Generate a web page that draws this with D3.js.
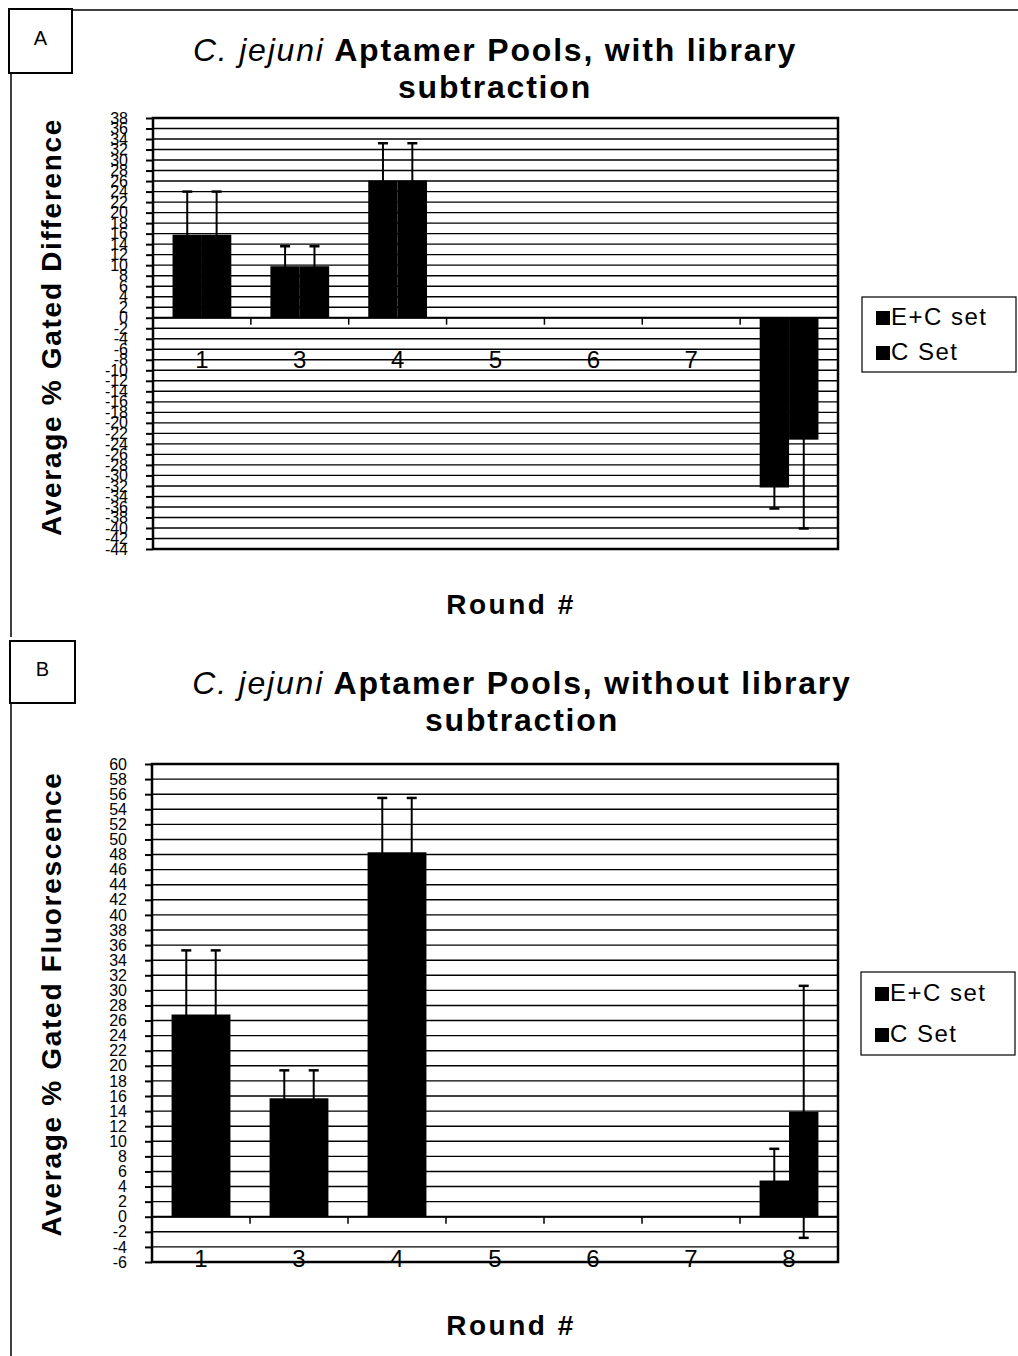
<!DOCTYPE html>
<html lang="en">
<head>
    <meta charset="UTF-8">
    <title>C. jejuni Aptamer Pools</title>
    <script src="https://d3js.org/d3.v7.min.js"></script>
    <style>
        body { margin: 0; background: #fff; }
        svg text { font-family: "Liberation Sans", Arial, sans-serif; fill: #000; }
    </style>
</head>
<body>
    <div id="chart"></div>

    <script>
        // categories and series
        const rounds = ["1", "3", "4", "5", "6", "7", "8"];
        const seriesNames = ["E+C set", "C Set"];

        // panel A - with library subtraction
        const aValuesEC = [15.8, 9.8, 26.1, null, null, null, -32.3];
        const aValuesC  = [15.8, 9.8, 26.1, null, null, null, -23.2];
        const aErrEC    = [8.2, 3.8, 7.1, null, null, null, 4.0];
        const aErrC     = [8.2, 3.8, 7.1, null, null, null, 16.9];
        const aTickRange = [-44, 38, 2];

        // panel B - without library subtraction
        const bValuesEC = [26.8, 15.7, 48.3, null, null, null, 4.8];
        const bValuesC  = [26.8, 15.7, 48.3, null, null, null, 13.9];
        const bErrEC    = [8.5, 3.7, 7.2, null, null, null, 4.2];
        const bErrC     = [8.5, 3.7, 7.2, null, null, null, 16.7];
        const bTickRange = [-6, 60, 2];

        const W = 1018, H = 1356;

        const svg = d3.select("#chart")
          .append("svg")
            .attr("width", W)
            .attr("height", H);

        // page frame lines and panel letters
        svg.append("line").attr("x1", 72).attr("x2", W).attr("y1", 10).attr("y2", 10)
            .attr("stroke", "#000").attr("stroke-width", 1.5);
        svg.append("line").attr("x1", 11).attr("x2", 11).attr("y1", 73).attr("y2", 637)
            .attr("stroke", "#000").attr("stroke-width", 1.5);
        svg.append("line").attr("x1", 11).attr("x2", 11).attr("y1", 703).attr("y2", H)
            .attr("stroke", "#000").attr("stroke-width", 1.5);

        function letterBox(x, y, w, h, txt) {
            svg.append("rect").attr("x", x).attr("y", y).attr("width", w).attr("height", h)
                .attr("fill", "#fff").attr("stroke", "#000").attr("stroke-width", 2);
            svg.append("text").attr("x", x + w / 2).attr("y", y + h / 2 - 1)
                .attr("text-anchor", "middle").attr("dominant-baseline", "middle")
                .style("font-size", "20px").text(txt);
        }
        letterBox(9, 9, 63, 64, "A");
        letterBox(10, 641, 65, 62, "B");

        function drawPanel(p) {
            const g = svg.append("g");

            // title (two lines, italic species name)
            const t1 = g.append("text").attr("x", p.titleX).attr("y", p.titleY)
                .attr("text-anchor", "middle").style("font-size", "32px").style("font-weight", "bold")
                .style("letter-spacing", "1.8px");
            t1.append("tspan").style("font-style", "italic").style("font-weight", "normal").text("C. jejuni");
            t1.append("tspan").text(" " + p.title1);
            g.append("text").attr("x", p.titleX).attr("y", p.titleY + 37)
                .attr("text-anchor", "middle").style("font-size", "32px").style("font-weight", "bold")
                .style("letter-spacing", "1.8px")
                .text(p.title2);

            const x = d3.scaleBand().domain(rounds).range([p.left, p.right]);
            const x1 = d3.scaleBand().domain(seriesNames).range([0, x.bandwidth()]).paddingOuter(0.665);
            const y = d3.scaleLinear().domain([p.ticks[0], p.ticks[1]]).range([p.bottom, p.top]);
            const tickVals = d3.range(p.ticks[0], p.ticks[1] + 0.001, p.ticks[2]);

            // gridlines
            g.append("g").selectAll("line")
              .data(tickVals)
              .join("line")
                .attr("x1", p.left).attr("x2", p.right)
                .attr("y1", d => y(d)).attr("y2", d => y(d))
                .attr("stroke", "#000").attr("stroke-width", 1.4);

            // y axis
            const yAxis = g.append("g")
                .attr("transform", `translate(${p.left},0)`)
                .call(d3.axisLeft(y).tickValues(tickVals).tickSize(7).tickPadding(18).tickFormat(d3.format("d")));
            yAxis.select(".domain").remove();
            yAxis.selectAll(".tick line").attr("stroke-width", 2);
            yAxis.selectAll("text")
                .style("font-size", "16px")
                .style("font-family", "'Liberation Sans', Arial, sans-serif")
                .text(d => d < 0 ? "-" + Math.abs(d) : d);

            // category labels (drawn under the bars)
            g.append("g").selectAll("text")
              .data(rounds)
              .join("text")
                .attr("x", d => x(d) + x.bandwidth() / 2)
                .attr("y", y(0) + 44)
                .attr("text-anchor", "middle").attr("dominant-baseline", "middle")
                .style("font-size", "24px")
                .text(d => d);

            // bars
            const rows = [];
            rounds.forEach((r, i) => {
                p.series.forEach((s, k) => {
                    if (s.values[i] != null) rows.push({ round: r, name: seriesNames[k], value: s.values[i], err: s.err[i] });
                });
            });

            g.append("g").selectAll("rect")
              .data(rows)
              .join("rect")
                .attr("x", d => x(d.round) + x1(d.name))
                .attr("y", d => y(Math.max(0, d.value)))
                .attr("width", x1.bandwidth())
                .attr("height", d => Math.abs(y(d.value) - y(0)))
                .attr("fill", "#000");

            // error bars
            const eb = g.append("g").selectAll("g")
              .data(rows)
              .join("g")
                .attr("transform", d => `translate(${x(d.round) + x1(d.name) + x1.bandwidth() / 2},0)`);
            eb.append("line")
                .attr("y1", d => y(d.value - d.err)).attr("y2", d => y(d.value + d.err))
                .attr("stroke", "#000").attr("stroke-width", 2);
            eb.append("line")
                .attr("x1", -5).attr("x2", 5)
                .attr("y1", d => y(d.value + d.err)).attr("y2", d => y(d.value + d.err))
                .attr("stroke", "#000").attr("stroke-width", 2.5);
            eb.append("line")
                .attr("x1", -5).attr("x2", 5)
                .attr("y1", d => y(d.value - d.err)).attr("y2", d => y(d.value - d.err))
                .attr("stroke", "#000").attr("stroke-width", 2.5);

            // category axis at zero, ticks between categories
            g.append("line")
                .attr("x1", p.left).attr("x2", p.right)
                .attr("y1", y(0)).attr("y2", y(0))
                .attr("stroke", "#000").attr("stroke-width", 2);
            g.append("g").selectAll("line")
              .data(rounds.slice(1))
              .join("line")
                .attr("x1", d => x(d)).attr("x2", d => x(d))
                .attr("y1", y(0)).attr("y2", y(0) + 7)
                .attr("stroke", "#000").attr("stroke-width", 1.5);

            // plot border
            g.append("rect")
                .attr("x", p.left).attr("y", p.top)
                .attr("width", p.right - p.left).attr("height", p.bottom - p.top)
                .attr("fill", "none").attr("stroke", "#000").attr("stroke-width", 2.5);

            // axis titles
            g.append("text")
                .attr("transform", `translate(${p.yTitleX},${p.yTitleY}) rotate(-90)`)
                .attr("text-anchor", "middle").attr("dominant-baseline", "middle")
                .style("font-size", "28px").style("font-weight", "bold").style("letter-spacing", "1.7px")
                .text(p.yTitle);
            g.append("text")
                .attr("x", 511).attr("y", p.xTitleY)
                .attr("text-anchor", "middle").attr("dominant-baseline", "middle")
                .style("font-size", "28px").style("font-weight", "bold").style("letter-spacing", "2.5px")
                .text("Round #");

            // legend
            const lg = g.append("g").attr("transform", `translate(${p.legend[0]},${p.legend[1]})`);
            lg.append("rect").attr("width", 154).attr("height", p.legend[2])
                .attr("fill", "#fff").attr("stroke", "#000").attr("stroke-width", 1.2);
            seriesNames.forEach((n, k) => {
                const cy = p.legend[3] + k * p.legend[4];
                lg.append("rect").attr("x", 14).attr("y", cy - 7).attr("width", 14).attr("height", 14).attr("fill", "#000");
                lg.append("text").attr("x", 29).attr("y", cy + 1)
                    .attr("dominant-baseline", "middle").style("font-size", "24px").style("letter-spacing", "1.5px")
                    .text(n);
            });
        }

        drawPanel({
            title1: "Aptamer Pools, with library", title2: "subtraction",
            titleX: 495, titleY: 61,
            left: 153, right: 838, top: 118, bottom: 549,
            ticks: aTickRange,
            series: [{ values: aValuesEC, err: aErrEC }, { values: aValuesC, err: aErrC }],
            yTitle: "Average % Gated Difference", yTitleX: 54, yTitleY: 327, xTitleY: 607,
            legend: [862, 297, 75, 21, 35]
        });

        drawPanel({
            title1: "Aptamer Pools, without library", title2: "subtraction",
            titleX: 522, titleY: 694,
            left: 152, right: 838, top: 764, bottom: 1262,
            ticks: bTickRange,
            series: [{ values: bValuesEC, err: bErrEC }, { values: bValuesC, err: bErrC }],
            yTitle: "Average % Gated Fluorescence", yTitleX: 54, yTitleY: 1004, xTitleY: 1328,
            legend: [861, 972, 83, 22, 41]
        });
    </script>
</body>
</html>
